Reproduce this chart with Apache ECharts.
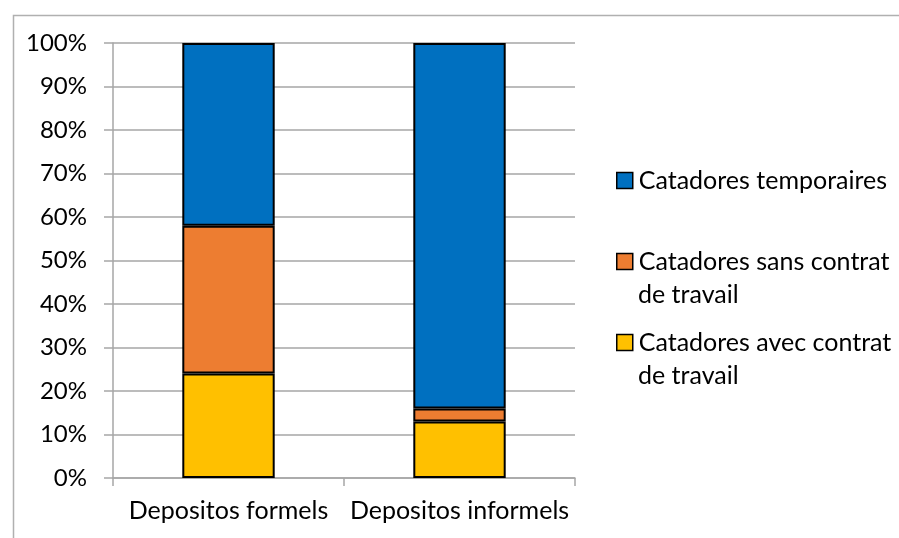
<!DOCTYPE html>
<html><head><meta charset="utf-8">
<script src="https://cdn.jsdelivr.net/npm/echarts@6/dist/echarts.min.js"></script>
<style>html,body{margin:0;padding:0;background:#fff}#c{width:899px;height:538px}</style>
</head><body><div id="c"></div>
<script>
var categories = ['Depositos formels', 'Depositos informels'];
var avecContrat = [24, 13];
var sansContrat = [34, 3];
var temporaires = [42, 84];
var yTicks = [0, 10, 20, 30, 40, 50, 60, 70, 80, 90, 100];
var seriesNames = ['Catadores avec contrat de travail', 'Catadores sans contrat de travail', 'Catadores temporaires'];
var legendFirstLines = {'Catadores temporaires':'Catadores temporaires','Catadores sans contrat de travail':'Catadores sans contrat','Catadores avec contrat de travail':'Catadores avec contrat'};
var colors = ['#ffc000', '#ed7d31', '#0070c0'];
var FONT = 'Lato';
var FS = 25;
var chart = echarts.init(document.getElementById('c'));
function bar(name, data, color) {
  return {name: name, type: 'bar', stack: 's', data: data, barWidth: '40%',
    itemStyle: {color: color, borderColor: '#000', borderWidth: 2}};
}
chart.setOption({
  animation: false,
  textStyle: {fontFamily: FONT},
  grid: {left: 113, right: 324, top: 43, bottom: 60},
  xAxis: {type: 'category', data: categories,
    axisLine: {lineStyle: {color: '#a6a6a6', width: 1.5}},
    axisTick: {show: true, length: 8, lineStyle: {color: '#a6a6a6', width: 1.5}},
    axisLabel: {color: '#000', fontSize: FS, margin: 20, fontFamily: FONT, interval: 0}},
  yAxis: {type: 'value', min: 0, max: 100, interval: 10,
    axisLine: {show: true, lineStyle: {color: '#a6a6a6', width: 1.5}},
    axisTick: {show: true, length: 9, lineStyle: {color: '#a6a6a6', width: 1.5}},
    splitLine: {lineStyle: {color: '#a6a6a6', width: 1.5}},
    axisLabel: {color: '#000', fontSize: 24, margin: 26, fontFamily: FONT,
      formatter: function(v){ return yTicks.indexOf(v) >= 0 ? v + '%' : ''; }}},
  legend: {orient: 'vertical', left: 611, top: 163, icon: 'rect', itemWidth: 16, itemHeight: 16, itemGap: 56,
    data: [seriesNames[2], seriesNames[1], seriesNames[0]],
    itemStyle: {borderColor: '#000', borderWidth: 1.5},
    formatter: function(n){ return legendFirstLines[n]; },
    textStyle: {color: '#000', fontSize: FS, fontFamily: FONT, lineHeight: 20, padding: [0,0,0,1]}},
  graphic: [
    {type: 'rect', left: 11, top: 13, shape: {width: 950, height: 600}, style: {fill: 'none', stroke: '#b0b0b0', lineWidth: 1.5}, silent: true, z: -10},
    {type: 'text', x: 638, y: 295, style: {text: 'de travail', fill: '#000', font: FS + 'px ' + FONT, verticalAlign: 'middle'}},
    {type: 'text', x: 638, y: 376, style: {text: 'de travail', fill: '#000', font: FS + 'px ' + FONT, verticalAlign: 'middle'}}
  ],
  series: [
    bar(seriesNames[0], avecContrat, colors[0]),
    bar(seriesNames[1], sansContrat, colors[1]),
    bar(seriesNames[2], temporaires, colors[2])
  ]
});
</script></body></html>
